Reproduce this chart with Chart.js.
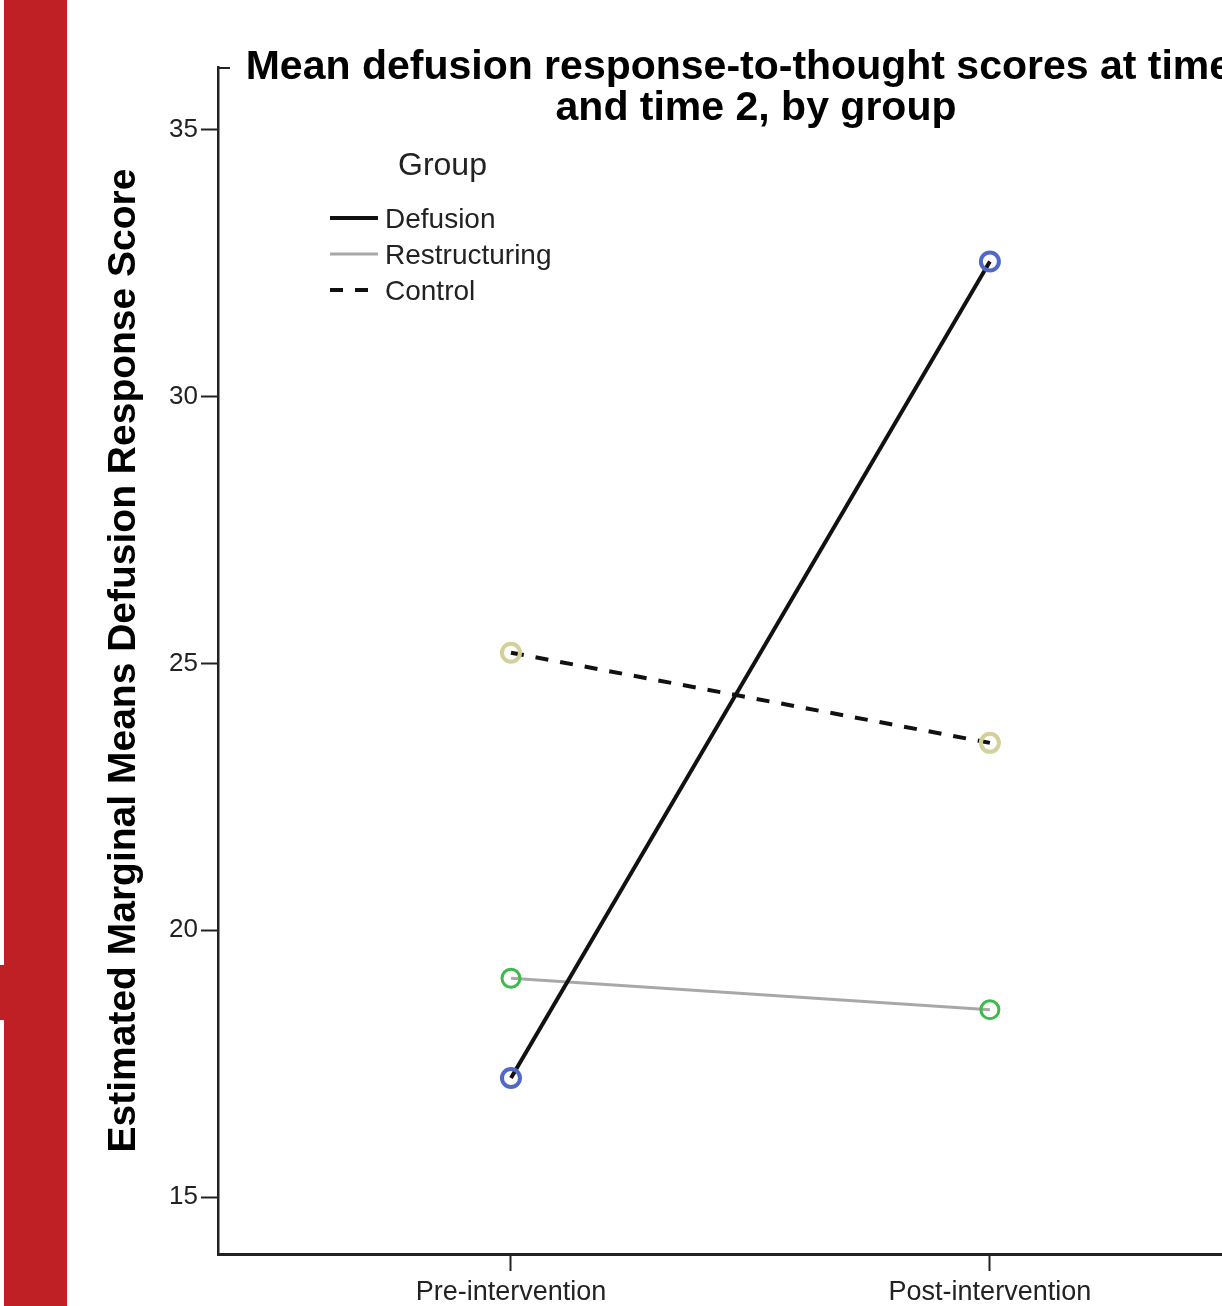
<!DOCTYPE html>
<html>
<head>
<meta charset="utf-8">
<script src="https://cdn.jsdelivr.net/npm/chart.js@4.4.1/dist/chart.umd.min.js"></script>
<style>
html, body { margin: 0; padding: 0; background: #fff; overflow: hidden; }
#wrap { position: relative; width: 1222px; height: 1306px; overflow: hidden; }
#wrap canvas { position: absolute; left: 0; top: 0; }
.bar { position: absolute; background: #bf2026; }
</style>
</head>
<body>
<div id="wrap">
  <canvas id="chart" width="1300" height="1306"></canvas>
  <div class="bar" style="left:4px;top:0;width:63px;height:1306px"></div>
  <div class="bar" style="left:0;top:965px;width:4px;height:55px"></div>
</div>
<script>
const categories = ['Pre-intervention', 'Post-intervention'];
const defusion = [17.23, 32.53];
const restructuring = [19.10, 18.51];
const control = [25.20, 23.51];
const yTicks = [15, 20, 25, 30, 35];
const titleLines = ['Mean defusion response-to-thought scores at time 1', 'and time 2, by group'];
const legendTitle = 'Group';

const family = '"Liberation Sans", Arial, sans-serif';

function points(values) {
    return values.map((v, i) => ({ x: i, y: v }));
}

// title and legend are drawn by hand so they sit where SPSS put them
const overlay = {
    id: 'overlay',
    afterDraw(chart) {
        const ctx = chart.ctx;
        const area = chart.chartArea;
        ctx.save();

        ctx.fillStyle = '#000';
        ctx.font = 'bold 41px ' + family;
        ctx.textAlign = 'center';
        ctx.textBaseline = 'middle';
        ctx.fillText(titleLines[0], 756, 68);
        ctx.fillText(titleLines[1], 756, 109);

        // little mark at the top of the y axis
        ctx.strokeStyle = '#222';
        ctx.lineWidth = 2;
        ctx.beginPath();
        ctx.moveTo(area.left, area.top + 1);
        ctx.lineTo(area.left + 12, area.top + 1);
        ctx.stroke();

        ctx.textAlign = 'left';
        ctx.fillStyle = '#222';
        ctx.font = '32px ' + family;
        ctx.fillText(legendTitle, 398, 166);

        ctx.font = '28px ' + family;
        chart.data.datasets.forEach((ds, i) => {
            const y = 218 + i * 36;
            ctx.strokeStyle = ds.borderColor;
            ctx.lineWidth = ds.borderWidth;
            ctx.setLineDash(ds.borderDash || []);
            ctx.beginPath();
            ctx.moveTo(330, y);
            ctx.lineTo(378, y);
            ctx.stroke();
            ctx.setLineDash([]);
            ctx.fillText(ds.label, 385, y + 2);
        });
        ctx.restore();
    }
};

new Chart(document.getElementById('chart'), {
    type: 'line',
    data: {
        datasets: [
            {
                label: 'Defusion',
                data: points(defusion),
                borderColor: '#111',
                borderWidth: 4,
                pointBorderColor: '#5068c8'
            },
            {
                label: 'Restructuring',
                data: points(restructuring),
                borderColor: '#a8a8a8',
                borderWidth: 3,
                pointBorderColor: '#3cba4a'
            },
            {
                label: 'Control',
                data: points(control),
                borderColor: '#111',
                borderWidth: 4,
                borderDash: [13, 12],
                pointBorderColor: '#d4d09a'
            }
        ]
    },
    options: {
        responsive: false,
        animation: false,
        layout: { padding: { left: 0, top: 67, right: 17, bottom: 0 } },
        elements: {
            line: { tension: 0 },
            point: {
                radius: 9,
                borderWidth: 2,
                backgroundColor: 'rgba(0,0,0,0)',
                pointStyle: 'circle'
            }
        },
        plugins: {
            legend: { display: false },
            title: { display: false },
            tooltip: { enabled: false }
        },
        scales: {
            x: {
                type: 'linear',
                min: -0.6117,
                max: 1.612,
                afterBuildTicks: s => { s.ticks = categories.map((c, i) => ({ value: i })); },
                afterFit: s => { s.height = 52; },
                grid: { drawOnChartArea: false, drawTicks: true, tickLength: 17, tickWidth: 2, tickColor: '#222' },
                border: { display: true, color: '#222', width: 3 },
                ticks: {
                    padding: 5,
                    color: '#222',
                    maxRotation: 0,
                    font: { size: 27, family: family },
                    callback: v => categories[v]
                }
            },
            y: {
                type: 'linear',
                min: 13.932,
                max: 36.175,
                afterBuildTicks: s => { s.ticks = yTicks.map(v => ({ value: v })); },
                afterFit: s => { s.width = 218; },
                grid: { drawOnChartArea: false, drawTicks: true, tickLength: 17, tickWidth: 2, tickColor: '#222' },
                border: { display: true, color: '#222', width: 2.5 },
                ticks: { padding: 3, color: '#222', font: { size: 26, family: family } },
                title: {
                    display: true,
                    text: 'Estimated Marginal Means Defusion Response Score',
                    color: '#000',
                    font: { size: 39, weight: 'bold', family: family },
                    padding: { top: 101, bottom: 0 }
                }
            }
        }
    },
    plugins: [overlay]
});
</script>
</body>
</html>
